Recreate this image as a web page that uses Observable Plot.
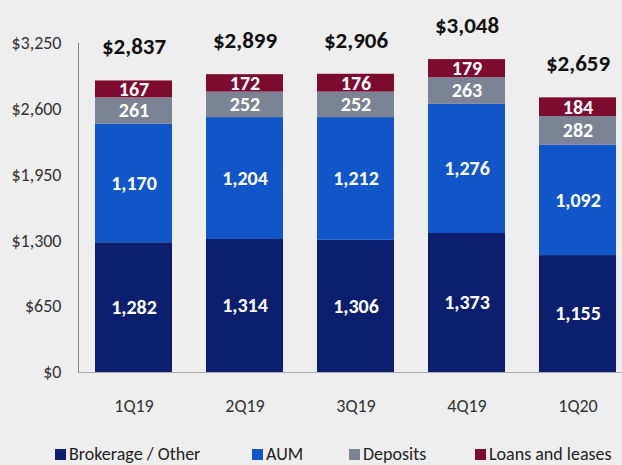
<!DOCTYPE html>
<html><head><meta charset="utf-8">
<script src="https://cdn.jsdelivr.net/npm/d3@7"></script>
<script src="https://cdn.jsdelivr.net/npm/@observablehq/plot@0.6"></script>
<style>
body{margin:0;background:#eeeeee;font-family:Carlito,"Liberation Sans Narrow","DejaVu Sans Condensed",sans-serif;}
#wrap{width:622px;height:465px;position:relative;overflow:hidden;}
#legend{position:absolute;left:0;top:443px;width:622px;height:22px;font-size:18px;color:#222;}
.it{position:absolute;top:0;display:flex;align-items:center;height:22px;white-space:nowrap;}
.sw{width:11px;height:11px;margin-right:3px;display:inline-block;}
</style></head>
<body><div id="wrap"><div id="chart"></div><div id="legend"></div></div>
<script>
const quarters = ["1Q19","2Q19","3Q19","4Q19","1Q20"];
const brokerage = [1282,1314,1306,1373,1155];
const aum = [1170,1204,1212,1276,1092];
const deposits = [261,252,252,263,282];
const loans = [167,172,176,179,184];
const totals = [2837,2899,2906,3048,2659];
const seriesNames = ["Brokerage / Other","AUM","Deposits","Loans and leases"];
const seriesColors = ["#0b1f6e","#1156c9","#7b8394","#7d0b30"];
const yTicks = [0,650,1300,1950,2600,3250];

const seriesValues = [brokerage, aum, deposits, loans];
const data = [];
seriesNames.forEach((s,si)=>quarters.forEach((q,qi)=>data.push({q, s, v: seriesValues[si][qi], order: si})));
const tops = quarters.map((q,qi)=>({q, top: seriesValues.reduce((a,arr)=>a+arr[qi],0), label: "$" + d3.format(",")(totals[qi])}));

const font = 'Carlito,"Liberation Sans Narrow","DejaVu Sans Condensed",sans-serif';
const chart = Plot.plot({
  width: 622, height: 443,
  marginLeft: 78, marginRight: 0, marginTop: 43, marginBottom: 71,
  style: {background: "transparent", fontFamily: font, overflow: "visible"},
  x: {domain: quarters, range: [78, 633], paddingInner: 0.306, paddingOuter: 0.153, label: null},
  y: {domain: [0, 3250], label: null},
  color: {domain: seriesNames, range: seriesColors},
  marks: [
    Plot.barY(data, Plot.stackY({x: "q", y: "v", fill: "s", order: seriesNames})),
    Plot.text(data, Plot.stackY({x: "q", y: "v", z: "s", order: seriesNames, text: d => d3.format(",")(d.v), fill: "white", fontSize: 20, fontWeight: "bold"})),
    Plot.text(tops, {x: "q", y: "top", text: "label", dy: -34, fontSize: 23, fontWeight: "bold", fill: "#111"}),
    Plot.frame({anchor: "left", stroke: "#888"}),
    Plot.ruleY([0], {stroke: "#aaa"}),
    Plot.axisY({ticks: yTicks, tickFormat: d => "$" + d3.format(",")(d), tickSize: 0, tickPadding: 17, fontSize: 18, color: "#333"}),
    Plot.axisX({tickSize: 0, tickPadding: 27, fontSize: 18, color: "#333"})
  ]
});
document.getElementById("chart").appendChild(chart);

const legendX = [55, 252, 349, 475];
const lg = document.getElementById("legend");
seriesNames.forEach((s,i)=>{
  const d = document.createElement("div");
  d.className = "it"; d.style.left = legendX[i] + "px";
  d.innerHTML = `<span class="sw" style="background:${seriesColors[i]}"></span><span>${s}</span>`;
  lg.appendChild(d);
});
</script></body></html>
